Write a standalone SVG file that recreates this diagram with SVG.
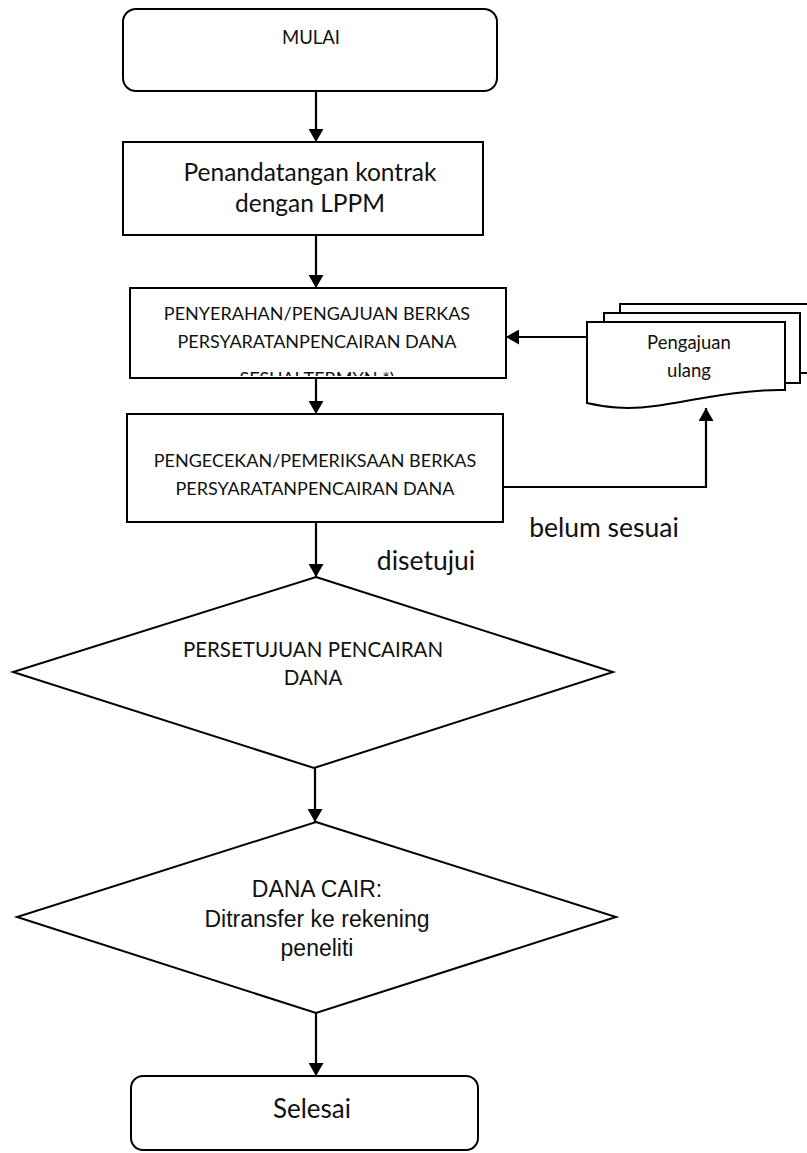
<svg xmlns="http://www.w3.org/2000/svg" width="807" height="1153" viewBox="0 0 807 1153">
  <style>
    .shape { fill: #ffffff; stroke: #000000; stroke-width: 2; }
    .edge { fill: none; stroke: #000000; stroke-width: 2.2; }
    .t { font-family: Lato, "Open Sans", "Liberation Sans", sans-serif; fill: #111111; text-anchor: middle; }
    .a { font-family: "Liberation Sans", Arial, sans-serif; fill: #111111; text-anchor: middle; }
  </style>
  <defs>
    <marker id="arrow" viewBox="0 0 13 15" refX="13" refY="7.5" markerWidth="13" markerHeight="15" markerUnits="userSpaceOnUse" orient="auto">
      <path d="M0,0 L13,7.5 L0,15 Z" fill="#000000"/>
    </marker>
    <clipPath id="clip-berkas">
      <rect x="131" y="289" width="374" height="87"/>
    </clipPath>
  </defs>
  <rect width="807" height="1153" fill="#ffffff"/>

  <!-- connectors -->
  <g id="connectors">
    <line class="edge" x1="316" y1="91" x2="316" y2="142" marker-end="url(#arrow)"/>
    <line class="edge" x1="316" y1="235" x2="316" y2="288" marker-end="url(#arrow)"/>
    <line class="edge" x1="316" y1="378" x2="316" y2="414" marker-end="url(#arrow)"/>
    <line class="edge" x1="316" y1="522" x2="316" y2="577" marker-end="url(#arrow)"/>
    <line class="edge" x1="315" y1="768" x2="315" y2="822" marker-end="url(#arrow)"/>
    <line class="edge" x1="316" y1="1013" x2="316" y2="1076" marker-end="url(#arrow)"/>
    <line class="edge" x1="587" y1="337" x2="506" y2="337" marker-end="url(#arrow)"/>
    <path class="edge" d="M503,487 H706 V408" marker-end="url(#arrow)"/>
    <text class="t" x="426" y="570" font-size="26.5">disetujui</text>
    <text class="t" x="604" y="537" font-size="26.5">belum sesuai</text>
  </g>

  <!-- start -->
  <g id="mulai">
    <rect class="shape" x="123" y="9" width="374" height="82" rx="13"/>
    <text class="t" x="311" y="44" font-size="18.5">MULAI</text>
  </g>

  <!-- contract signing -->
  <g id="kontrak">
    <rect class="shape" x="123" y="142" width="360" height="93"/>
    <text class="t" x="310" y="181" font-size="24.5">Penandatangan kontrak</text>
    <text class="t" x="310" y="212" font-size="24.5">dengan LPPM</text>
  </g>

  <!-- document submission -->
  <g id="pengajuan">
    <rect class="shape" x="130" y="288" width="376" height="90"/>
    <g clip-path="url(#clip-berkas)">
      <text class="t" x="317" y="320" font-size="18">PENYERAHAN/PENGAJUAN BERKAS</text>
      <text class="t" x="317" y="348" font-size="18">PERSYARATANPENCAIRAN DANA</text>
      <text class="t" x="317" y="385" font-size="18">SESUAI TERMYN *)</text>
    </g>
  </g>

  <!-- document check -->
  <g id="pemeriksaan">
    <rect class="shape" x="127" y="414" width="376" height="108"/>
    <text class="t" x="315" y="467" font-size="18">PENGECEKAN/PEMERIKSAAN BERKAS</text>
    <text class="t" x="315" y="495" font-size="18">PERSYARATANPENCAIRAN DANA</text>
  </g>

  <!-- resubmission (multi-document) -->
  <g id="pengajuan-ulang">
    <path class="shape" d="M620,313 V304 H812 V373 H800"/>
    <path class="shape" d="M604,322 V313 H800 V383 H785"/>
    <path class="shape" d="M587,322 H785 V390 C745,389 700,399 655,406 C625,410 605,407 587,403 Z"/>
    <text class="t" x="689" y="349" font-size="18.5">Pengajuan</text>
    <text class="t" x="689" y="377" font-size="18.5">ulang</text>
  </g>

  <!-- approval -->
  <g id="persetujuan">
    <polygon class="shape" points="316,577 613,672 314,768 13,672"/>
    <text class="t" x="313" y="657" font-size="20.5">PERSETUJUAN PENCAIRAN</text>
    <text class="t" x="313" y="685" font-size="20.5">DANA</text>
  </g>

  <!-- funds disbursed -->
  <g id="dana-cair">
    <polygon class="shape" points="316,822 616,917 316,1013 17,917"/>
    <text class="a" x="317" y="897" font-size="23">DANA CAIR:</text>
    <text class="a" x="317" y="927" font-size="23">Ditransfer ke rekening</text>
    <text class="a" x="317" y="956" font-size="23">peneliti</text>
  </g>

  <!-- end -->
  <g id="selesai">
    <rect class="shape" x="131" y="1076" width="347" height="74" rx="12"/>
    <text class="t" x="312" y="1118" font-size="26">Selesai</text>
  </g>
</svg>
